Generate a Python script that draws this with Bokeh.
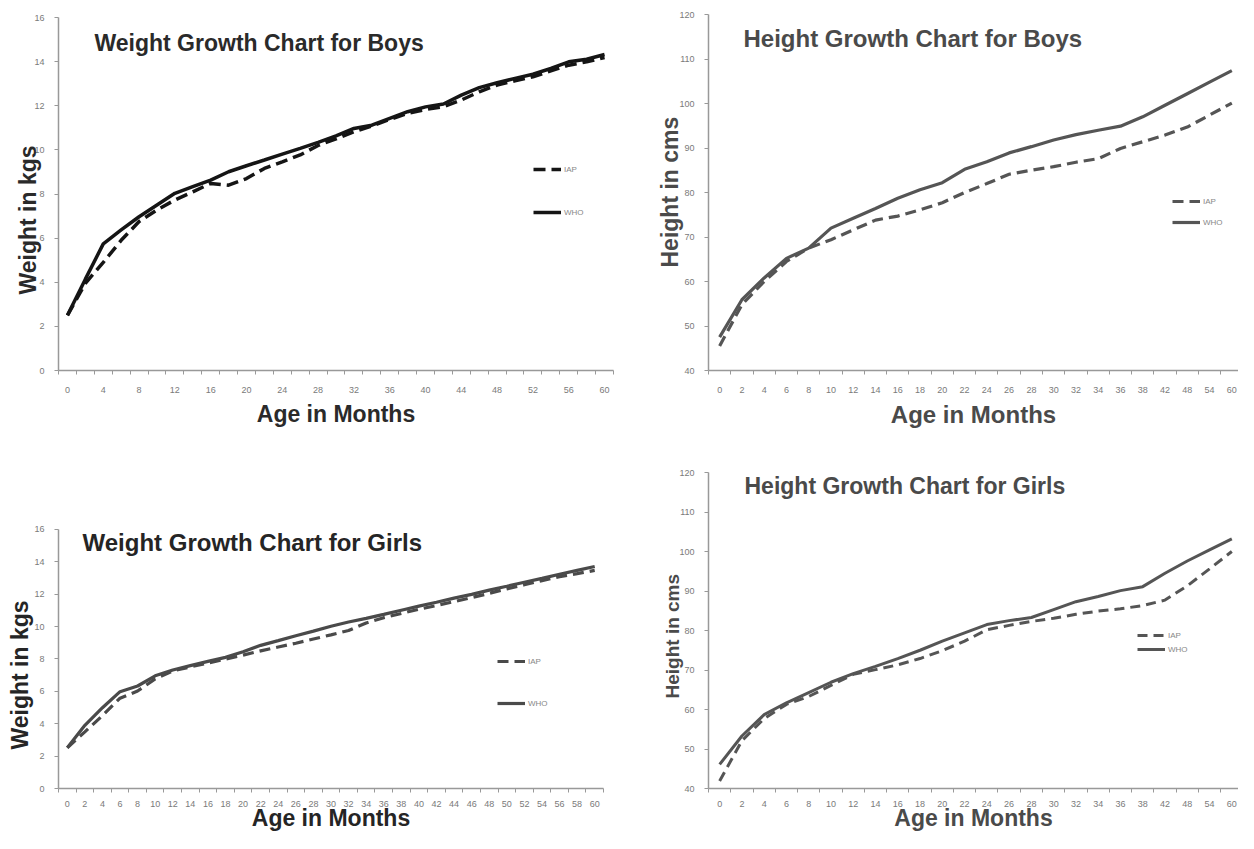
from bokeh.plotting import figure
from bokeh.layouts import column, row
from bokeh.models import FixedTicker, Label, Legend, LegendItem, Range1d, Title
from bokeh.embed import file_html
from bokeh.resources import INLINE

# ---------------- data ----------------
weight_ages = [0, 2, 4, 6, 8, 10, 12, 14, 16, 18, 20, 22, 24, 26, 28, 30,
               32, 34, 36, 38, 40, 42, 44, 46, 48, 50, 52, 54, 56, 58, 60]
height_ages = [0, 2, 4, 6, 8, 10, 12, 14, 16, 18, 20, 22, 24, 26, 28, 30,
               32, 34, 36, 38, 42, 48, 54, 60]

boys_weight_iap = [2.5, 3.95, 4.9, 5.9, 6.75, 7.28, 7.73, 8.1, 8.48, 8.4, 8.7,
                   9.16, 9.46, 9.77, 10.2, 10.5, 10.82, 11.08, 11.38, 11.65,
                   11.83, 11.95, 12.26, 12.63, 12.94, 13.13, 13.31, 13.58,
                   13.84, 13.99, 14.19]
boys_weight_who = [2.5, 4.14, 5.74, 6.37, 6.97, 7.5, 8.03, 8.33, 8.63, 9.01,
                   9.28, 9.54, 9.81, 10.07, 10.34, 10.63, 10.97, 11.12, 11.43,
                   11.73, 11.95, 12.08, 12.48, 12.82, 13.04, 13.24, 13.43,
                   13.69, 13.99, 14.11, 14.32]

girls_weight_iap = [2.52, 3.5, 4.5, 5.58, 6.02, 6.77, 7.26, 7.51, 7.75, 7.99,
                    8.24, 8.5, 8.74, 8.97, 9.23, 9.49, 9.76, 10.22, 10.55,
                    10.81, 11.07, 11.3, 11.54, 11.79, 12.05, 12.33, 12.58,
                    12.84, 13.08, 13.27, 13.47]
girls_weight_who = [2.52, 3.9, 4.99, 5.98, 6.33, 6.96, 7.32, 7.59, 7.85, 8.1,
                    8.44, 8.84, 9.13, 9.43, 9.72, 10.02, 10.28, 10.51, 10.75,
                    11.01, 11.26, 11.5, 11.76, 11.99, 12.25, 12.49, 12.74,
                    12.98, 13.23, 13.47, 13.71]

boys_height_iap = [45.5, 54.8, 60.0, 64.5, 67.5, 69.4, 71.6, 73.8, 74.7, 76.1,
                   77.7, 80.0, 82.0, 84.1, 85.0, 85.8, 86.8, 87.6, 89.9, 91.4,
                   92.9, 94.7, 97.4, 100.1]
boys_height_who = [47.5, 55.9, 60.8, 65.2, 67.5, 72.0, 74.2, 76.4, 78.7, 80.6,
                   82.2, 85.2, 86.9, 88.9, 90.3, 91.8, 93.0, 94.0, 94.9, 97.0,
                   99.6, 102.2, 104.8, 107.4]

girls_height_iap = [41.9, 52.1, 57.7, 61.3, 63.3, 66.1, 68.9, 70.1, 71.3, 72.9,
                    74.9, 77.3, 80.2, 81.3, 82.3, 83.1, 84.1, 84.9, 85.5, 86.3,
                    87.7, 91.3, 95.6, 100.0]
girls_height_who = [46.1, 53.3, 58.7, 61.7, 64.3, 66.9, 69.1, 70.9, 72.9, 75.0,
                    77.3, 79.4, 81.5, 82.5, 83.3, 85.3, 87.3, 88.6, 90.1, 91.1,
                    94.5, 97.6, 100.4, 103.2]

weight_y_ticks = [0, 2, 4, 6, 8, 10, 12, 14, 16]
height_y_ticks = [40, 50, 60, 70, 80, 90, 100, 110, 120]

series_names = ["IAP", "WHO"]
x_title = "Age in Months"

FONT = "Liberation Sans"


def make_panel(w, h, borders, ages, label_step, iap, who, y_bounds, y_top,
               y_ticks, x_end, line_color, text_color, title, title_pos,
               title_size, ytitle, ytitle_size, ytitle_offset, ytitle_standoff,
               xtitle_size, xtick_standoff, xtitle_standoff, legend_pos,
               legend_spacing, lw, dash):
    l, t, r, b = borders
    idx = list(range(len(ages)))
    p = figure(width=w, height=h, x_range=Range1d(-0.5, x_end),
               y_range=Range1d(y_bounds[0], y_top), output_backend="svg",
               toolbar_location=None, min_border_left=l, min_border_top=t,
               min_border_right=r, min_border_bottom=b)
    p.outline_line_color = None
    p.grid.visible = False
    p.background_fill_color = "white"
    p.border_fill_color = "white"

    xa = p.xaxis[0]
    xa.ticker = FixedTicker(ticks=idx[::label_step],
                            minor_ticks=[i - 0.5 for i in range(len(ages) + 1)])
    xa.major_label_overrides = {i: str(a) for i, a in enumerate(ages)}
    xa.major_tick_out = 0
    xa.major_tick_in = 0
    xa.minor_tick_out = 4
    xa.minor_tick_in = 0
    xa.minor_tick_line_color = "#999999"
    xa.axis_line_color = "#999999"
    xa.axis_line_width = 1.5
    xa.major_label_standoff = xtick_standoff
    xa.major_label_text_font = FONT
    xa.major_label_text_font_size = "9px"
    xa.major_label_text_color = "#7a7a7a"
    xa.axis_label = x_title
    xa.axis_label_text_font = FONT
    xa.axis_label_text_font_style = "bold"
    xa.axis_label_text_font_size = xtitle_size
    xa.axis_label_text_color = text_color
    xa.axis_label_standoff = xtitle_standoff

    ya = p.yaxis[0]
    ya.ticker = FixedTicker(ticks=y_ticks)
    ya.bounds = y_bounds
    ya.major_tick_out = 4
    ya.major_tick_in = 0
    ya.minor_tick_out = 0
    ya.minor_tick_in = 0
    ya.major_tick_line_color = "#999999"
    ya.axis_line_color = "#999999"
    ya.axis_line_width = 1.5
    ya.major_label_standoff = 10
    ya.major_label_text_font = FONT
    ya.major_label_text_font_size = "9px"
    ya.major_label_text_color = "#7a7a7a"

    p.add_layout(Title(text=ytitle, align="left", vertical_align="bottom",
                       offset=ytitle_offset, standoff=ytitle_standoff,
                       text_font=FONT, text_font_style="bold",
                       text_font_size=ytitle_size, text_color=text_color),
                 "left")

    r_iap = p.line(idx, iap, line_color=line_color, line_width=lw,
                   line_dash=dash)
    r_who = p.line(idx, who, line_color=line_color, line_width=lw)

    legend = Legend(items=[LegendItem(label=series_names[0], renderers=[r_iap]),
                           LegendItem(label=series_names[1], renderers=[r_who])],
                    location=legend_pos, spacing=legend_spacing, padding=0,
                    margin=0, glyph_width=28, glyph_height=10, label_height=10,
                    label_standoff=3, label_text_font=FONT,
                    label_text_font_size="8px", label_text_color="#888888",
                    border_line_color=None, background_fill_alpha=0)
    p.add_layout(legend)

    p.add_layout(Label(x=title_pos[0], y=title_pos[1], x_units="screen",
                       y_units="screen", text=title, text_font=FONT,
                       text_font_style="bold", text_font_size=title_size,
                       text_color=text_color, text_align="left",
                       text_baseline="middle"))
    return p


p1 = make_panel(630, 430, (58, 14, 17, 59), weight_ages, 2,
                boys_weight_iap, boys_weight_who, (0, 16), 16.136,
                weight_y_ticks, 30.5, "#151515", "#2a2a2a",
                "Weight Growth Chart for Boys", (36, 328), "23px",
                "Weight in kgs", "23px", 76, -18, "23px",
                12, 5, (475, 153), 33, 3.5, "12 6")

p2 = make_panel(608, 430, (78, 14, 0, 59), height_ages, 1,
                boys_height_iap, boys_height_who, (40, 120), 120,
                height_y_ticks, 23.3, "#555555", "#4a4a4a",
                "Height Growth Chart for Boys", (35, 332), "24px",
                "Height in cms", "23px", 103, -12, "24px",
                12, 5, (464, 143), 11, 3.2, "11 6")

p3 = make_panel(630, 403, (58, 42, 27, 39), weight_ages, 1,
                girls_weight_iap, girls_weight_who, (0, 16), 19.515,
                weight_y_ticks, 30.5, "#4a4a4a", "#252525",
                "Weight Growth Chart for Girls", (24, 246), "24px",
                "Weight in kgs", "23px", 39, -2, "23px",
                8, -5, (439, 80), 32, 3.2, "11 6")

p4 = make_panel(608, 403, (78, 42, 0, 39), height_ages, 1,
                girls_height_iap, girls_height_who, (40, 120), 120,
                height_y_ticks, 23.3, "#555555", "#4a4a4a",
                "Height Growth Chart for Girls", (36, 303), "23px",
                "Height in cms", "19px", 90, -12, "23px",
                8, -5, (429, 134), 4, 3.0, "10 6")

layout = column(row(p1, p2), row(p3, p4))

open("out.html", "w").write(file_html(layout, INLINE))
